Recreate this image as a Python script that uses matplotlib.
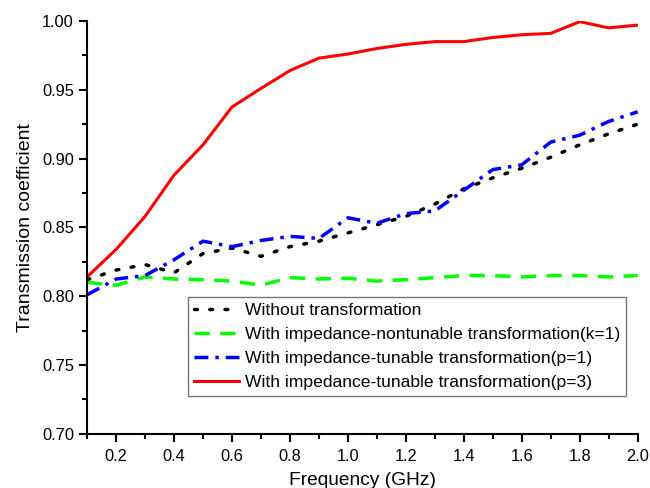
import numpy as np
import matplotlib.pyplot as plt
from matplotlib.ticker import MultipleLocator

plt.rcParams['font.family'] = ['Liberation Sans', 'DejaVu Sans']

freq = np.round(np.arange(0.1, 2.01, 0.1), 1)

without_tr = [0.812, 0.819, 0.823, 0.817, 0.831, 0.835, 0.829, 0.836, 0.840, 0.846,
              0.852, 0.858, 0.867, 0.878, 0.886, 0.893, 0.901, 0.910, 0.918, 0.925]
nontunable = [0.810, 0.808, 0.814, 0.8125, 0.812, 0.811, 0.808, 0.8135, 0.8125, 0.813,
              0.811, 0.812, 0.8135, 0.815, 0.815, 0.814, 0.815, 0.815, 0.814, 0.815]
tunable_p1 = [0.801, 0.8125, 0.815, 0.8265, 0.840, 0.836, 0.8405, 0.8435, 0.842, 0.857,
              0.853, 0.860, 0.862, 0.877, 0.892, 0.8955, 0.912, 0.917, 0.927, 0.934]
tunable_p3 = [0.814, 0.834, 0.858, 0.888, 0.910, 0.9375, 0.951, 0.964, 0.973, 0.976,
              0.980, 0.983, 0.985, 0.985, 0.988, 0.990, 0.991, 0.9995, 0.995, 0.997]

labels = ["Without transformation",
          "With impedance-nontunable transformation(k=1)",
          "With impedance-tunable transformation(p=1)",
          "With impedance-tunable transformation(p=3)"]

fig = plt.figure(figsize=(6.5, 4.88), dpi=100)
ax = fig.add_axes([0.134, 0.111, 0.847, 0.846])

ax.plot(freq, without_tr, color='black', lw=2.5, linestyle=(0, (0.8, 3.6)),
        dash_capstyle='round', label=labels[0])
ax.plot(freq, nontunable, color='#00ff00', lw=2.5, linestyle=(0, (4.4, 3)), label=labels[1])
ax.plot(freq, tunable_p1, color='#0000ff', lw=2.5, linestyle=(0, (4, 2, 1, 2)), label=labels[2])
ax.plot(freq, tunable_p3, color='#ff0000', lw=2.2, label=labels[3])

ax.set_xlim(0.1, 2.0)
ax.set_ylim(0.70, 1.00)
ax.xaxis.set_minor_locator(MultipleLocator(0.1))
ax.yaxis.set_major_locator(MultipleLocator(0.05))
ax.yaxis.set_minor_locator(MultipleLocator(0.025))
ax.set_xticks(np.arange(0.2, 2.01, 0.2))
ax.xaxis.set_major_formatter(plt.FormatStrFormatter('%.1f'))
ax.yaxis.set_major_formatter(plt.FormatStrFormatter('%.2f'))

for s in ['top', 'right']:
    ax.spines[s].set_visible(False)
for s in ['left', 'bottom']:
    ax.spines[s].set_linewidth(1.5)
ax.tick_params(which='major', direction='out', length=6, width=1.5, labelsize=11.8)
ax.tick_params(axis='x', which='major', pad=5)
ax.tick_params(which='minor', direction='out', length=3.5, width=1.5)

ax.set_xlabel('Frequency (GHz)', fontsize=13.8, labelpad=6)
ax.set_ylabel('Transmission coefficient', fontsize=14, labelpad=6)

leg = ax.legend(loc='upper left', bbox_to_anchor=(0.183, 0.332), borderaxespad=0,
                fontsize=12.6, fancybox=False, edgecolor='#555555', handlelength=2.6,
                handletextpad=0.3, borderpad=0.35, labelspacing=0.5)
leg.get_frame().set_linewidth(1.0)

fig.savefig('out.png', dpi=100)
